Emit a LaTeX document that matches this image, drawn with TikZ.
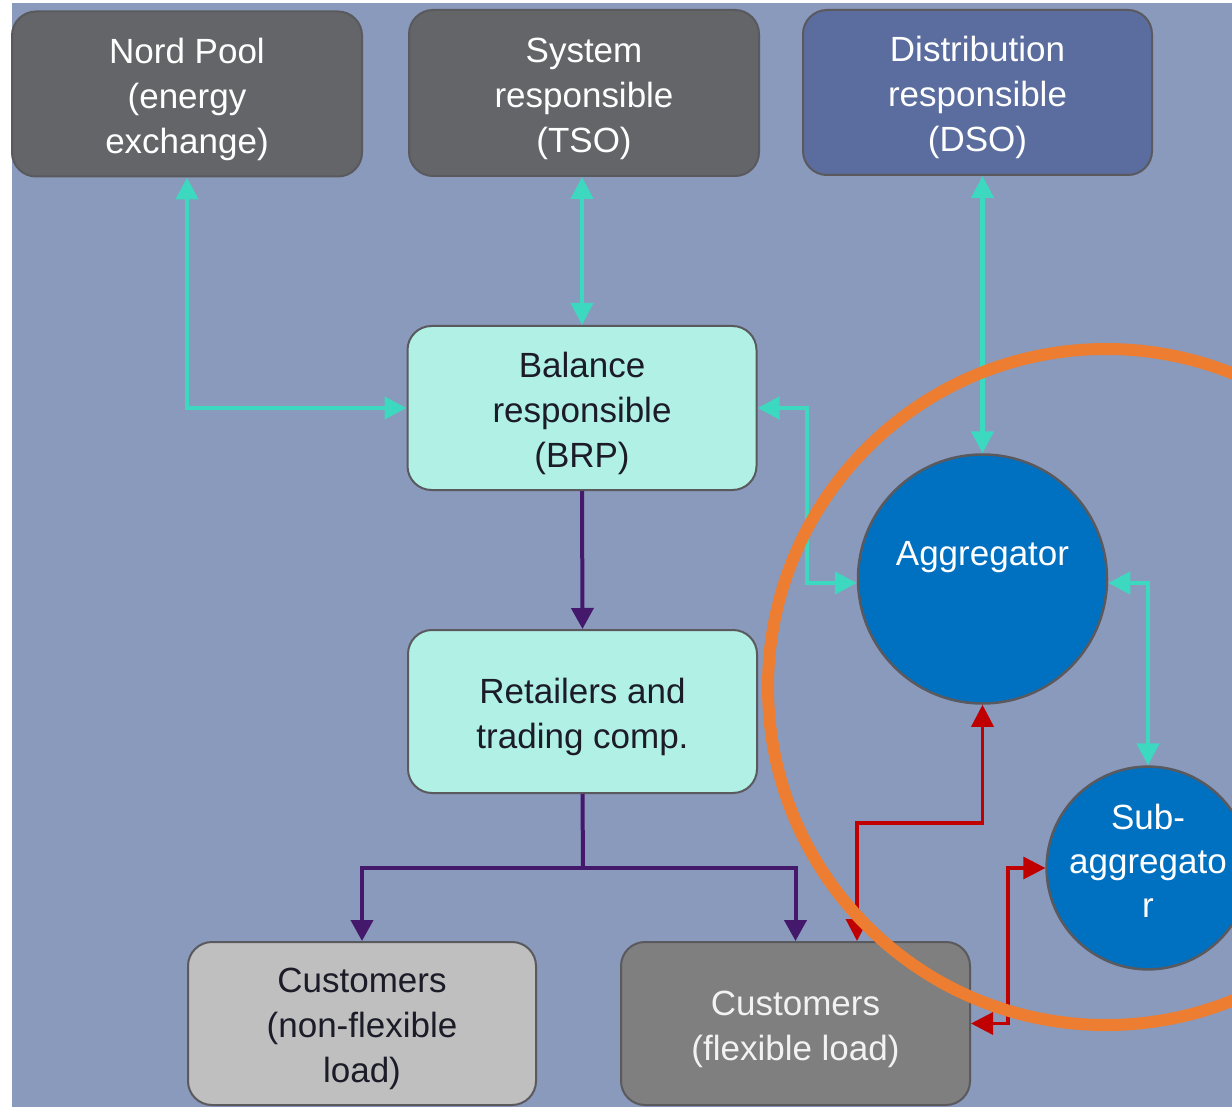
\documentclass[tikz,border=0pt]{standalone}
\usepackage{fontspec}
\setmainfont{Liberation Sans}
\usetikzlibrary{arrows.meta,calc}
\definecolor{bgc}{HTML}{8A9ABC}
\definecolor{darkg}{HTML}{636569}
\definecolor{dsoc}{HTML}{5A6D9E}
\definecolor{lightt}{HTML}{B0F0E5}
\definecolor{nonfc}{HTML}{BFBFBF}
\definecolor{flexc}{HTML}{7F7F7F}
\definecolor{circc}{HTML}{0070C0}
\definecolor{tealc}{HTML}{3DD8C0}
\definecolor{purpc}{HTML}{44186B}
\definecolor{redc}{HTML}{C00000}
\definecolor{orangec}{HTML}{ED7D31}
\definecolor{bordc}{HTML}{5A5A5E}
\definecolor{darktext}{HTML}{1C1C28}
\newcommand{\topstrut}{\rule{0pt}{36pt}}
\begin{document}
\begin{tikzpicture}[x=1pt,y=-1pt,
  box/.style={rounded corners=24pt, draw=bordc, line width=2pt, align=center,
    font=\fontsize{35}{45}\selectfont, inner sep=0pt, minimum width=349pt, minimum height=164pt},
  circ/.style={circle, draw=bordc, line width=2.5pt, fill=circc, align=center, text=white,
    font=\fontsize{35}{44}\selectfont, inner sep=0pt},
  tealarr/.style={draw=tealc, line width=4.5pt,
    {Triangle[length=22pt,width=22pt]}-{Triangle[length=22pt,width=22pt]}},
  purparr/.style={draw=purpc, line width=4pt, -{Triangle[length=21pt,width=22pt]}},
  redarr/.style={draw=redc, line width=3.3pt,
    {Triangle[length=22pt,width=22pt]}-{Triangle[length=22pt,width=22pt]}}
]
\useasboundingbox (0,0) rectangle (1232,1107);
\clip (0,0) rectangle (1232,1107);
\fill[bgc] (12,3) rectangle (1232,1107);

% nodes
\node[box, fill=darkg, text=white, minimum width=350pt, minimum height=165pt] (np) at (187,94) {\topstrut Nord Pool\\(energy\\exchange)};
\node[box, fill=darkg, text=white, minimum width=350pt, minimum height=166pt] (tso) at (584,93) {\topstrut System\\responsible\\(TSO)};
\node[box, fill=dsoc, text=white, minimum height=165pt] (dso) at (977.5,92.5) {\topstrut Distribution\\responsible\\(DSO)};
\node[box, fill=lightt, text=darktext] (brp) at (582,408) {\topstrut Balance\\responsible\\(BRP)};
\node[box, fill=lightt, text=darktext, minimum height=163pt] (ret) at (582.5,711.5) {\topstrut Retailers and\\trading comp.};
\node[box, fill=nonfc, text=darktext, minimum width=348pt, minimum height=163pt] (nonflex) at (362,1023.5) {\topstrut Customers\\(non-flexible\\load)};
\node[box, fill=flexc, text=white!95!black, minimum height=163pt] (flex) at (795.5,1023.5) {\topstrut Customers\\(flexible load)};
\node[circ, minimum size=249pt] (agg) at (982.5,579) {};
\node[font=\fontsize{35}{44}\selectfont, text=white, inner sep=0pt] (aggtext) at ([yshift=22pt]agg.center) {Aggregator};
\node[circ, minimum size=200pt] (sub) at (1148,868) {Sub-\\aggregato\\r\rule[-14pt]{0pt}{0pt}};

% junction coordinates
\coordinate (j1) at (807,408);
\coordinate (j2) at (583,868);
\coordinate (r1) at (857,823);
\coordinate (r2) at (1008,868);

% teal connectors
\draw[tealarr] (np.south) |- (brp.west);
\draw[tealarr] (tso.south -| brp.north) -- (brp.north);
\draw[tealarr] (dso.south -| agg.north) -- (agg.north);
\draw[tealarr] (brp.east) -- (j1) |- ([yshift=-4pt]agg.west);
\draw[tealarr] ([yshift=-4pt]agg.east) -| (sub.north);

% purple connectors
\draw[purparr] (brp.south) -- (ret.north);
\draw[draw=purpc, line width=4pt] (ret.south) -- (j2);
\draw[purparr] (j2) -| (nonflex.north);
\draw[purparr] (j2) -| (flex.north);

% red connectors
\draw[redarr] ([xshift=61.5pt]flex.north) -- (r1) -| (agg.south);
\draw[redarr] (flex.east) -| (r2) -- (sub.west);

% orange highlight
\draw[orangec, line width=12pt] (1106,687) circle (338pt);
\end{tikzpicture}
\end{document}
